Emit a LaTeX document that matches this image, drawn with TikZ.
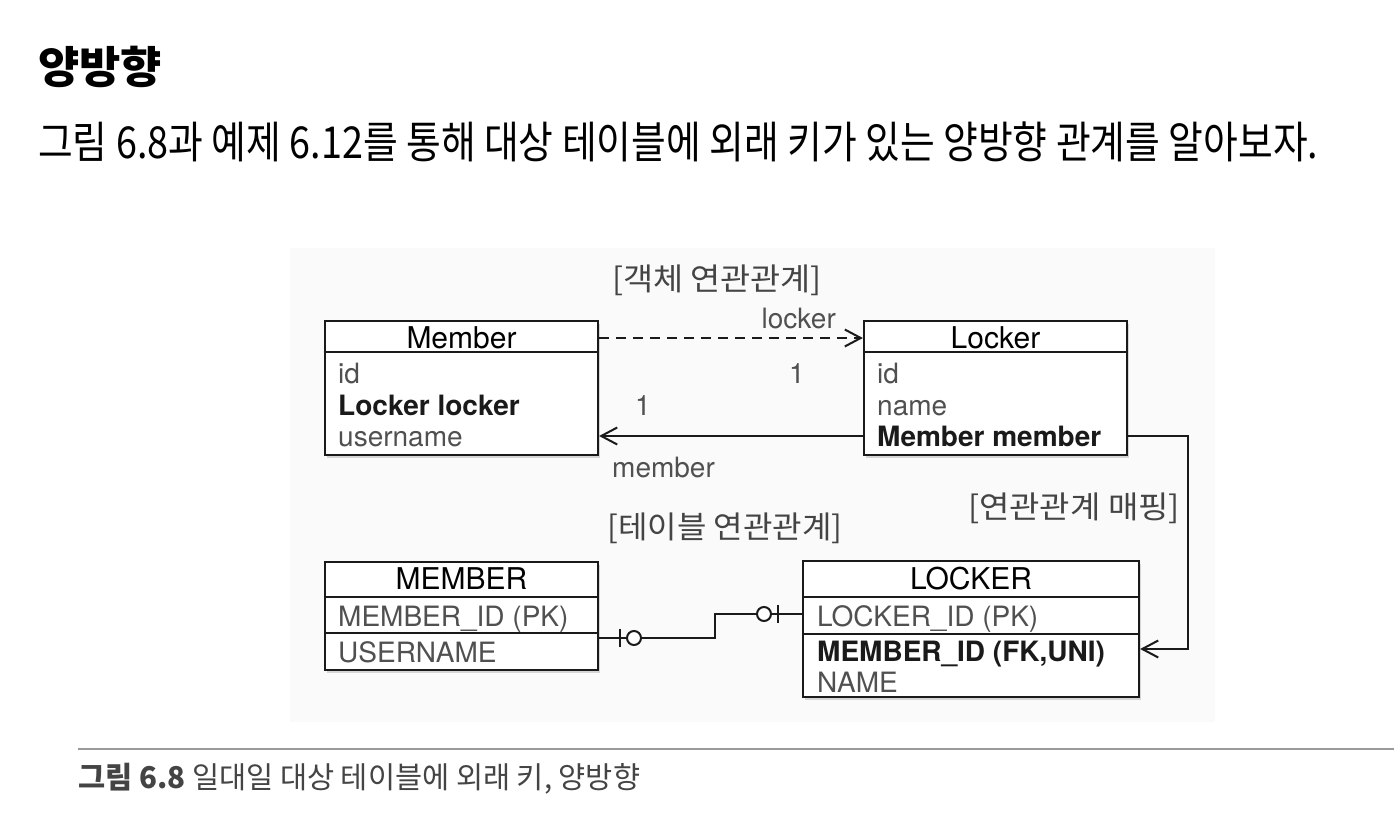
\documentclass[tikz,border=0pt]{standalone}
\usepackage{fontspec}
\setmainfont{TeX Gyre Heros}
\newfontfamily\kr{Noto Sans CJK KR}
\usetikzlibrary{arrows.meta,shadows}
\definecolor{lite}{HTML}{505050}
\definecolor{ink}{HTML}{1A1A1A}
\definecolor{bgpanel}{HTML}{FAFAFA}
\definecolor{rulegray}{HTML}{9A9A9A}
\definecolor{capgray}{HTML}{444444}
\tikzset{
  tbl/.style={draw=ink, line width=2.2pt, fill=white, inner sep=0pt,
    drop shadow={shadow xshift=2pt, shadow yshift=-3pt, opacity=0.3}},
  attr/.style={anchor=base west, inner sep=0pt, text=lite, font=\fontsize{28}{30}\selectfont},
  battr/.style={anchor=base west, inner sep=0pt, text=ink, font=\fontsize{28}{30}\selectfont\bfseries},
  head/.style={anchor=base, inner sep=0pt, text=black, font=\fontsize{30}{32}\selectfont},
  lbl/.style={inner sep=0pt, text=lite, font=\fontsize{28}{30}\selectfont},
  krlbl/.style={inner sep=0pt, text=capgray},
  link/.style={draw=ink, line width=2pt},
  sep/.style={draw=ink, line width=2pt},
  barb/.style={-{Straight Barb[length=16pt,width=17pt]}},
}
\begin{document}
\begin{tikzpicture}[x=1pt,y=-1pt]
\useasboundingbox (0,0) rectangle (1394,834);
\fill[white] (0,0) rectangle (1394,834);
\fill[bgpanel] (290,248) rectangle (1215,722);

% heading and body text
\node[anchor=west, inner sep=0pt] (title) at (38,67)
  {\resizebox{124pt}{\height}{\kr\bfseries\fontsize{44}{48}\selectfont 양방향}};
\node[anchor=west, inner sep=0pt] (body) at (38,142)
  {\resizebox{1280pt}{\height}{\kr\fontsize{44}{48}\selectfont 그림 6.8과 예제 6.12를 통해 대상 테이블에 외래 키가 있는 양방향 관계를 알아보자.}};

% object model
\node[tbl, minimum width=273pt, minimum height=134pt] (mem) at (461.5,388) {};
\node[tbl, minimum width=263pt, minimum height=134pt] (lck) at (995.5,388) {};
\draw[sep] (mem.west |- 0,352) -- (mem.east |- 0,352);
\draw[sep] (lck.west |- 0,352) -- (lck.east |- 0,352);
\node[head] (memh) at (461.5,348) {Member};
\node[attr] (memid) at (338,383) {id};
\node[battr] (memlk) at (338,415) {Locker locker};
\node[attr] (memun) at (338,446) {username};
\node[head] (lckh) at (995.5,348) {Locker};
\node[attr] (lckid) at (877,383) {id};
\node[attr] (lckname) at (877,415) {name};
\node[battr] (lckmm) at (877,446) {Member member};

\node[krlbl] (objrel) at (717,280)
  {\resizebox{210pt}{\height}{\kr\fontsize{31}{34}\selectfont [객체 연관관계]}};
\node[lbl, anchor=base east] (lkname) at (836,328) {locker};
\node[lbl, anchor=base] (one1) at (797,383) {1};
\node[lbl, anchor=base] (one2) at (643,415) {1};
\node[lbl, anchor=base west] (mbname) at (612,477) {member};

\draw[link, dashed, dash pattern=on 10pt off 7pt, barb] (mem.east |- 0,338) -- (lck.west |- 0,338);
\draw[link, barb] (lck.west |- 0,436) -- (mem.east |- 0,436);

% table model
\node[tbl, minimum width=273pt, minimum height=108pt] (MEM) at (461.5,616) {};
\node[tbl, minimum width=336pt, minimum height=136pt] (LCK) at (971,629) {};
\draw[sep] (MEM.west |- 0,597) -- (MEM.east |- 0,597);
\draw[sep] (MEM.west |- 0,633) -- (MEM.east |- 0,633);
\draw[sep] (LCK.west |- 0,597) -- (LCK.east |- 0,597);
\draw[sep] (LCK.west |- 0,634) -- (LCK.east |- 0,634);
\node[head] (MEMh) at (461.5,589) {MEMBER};
\node[attr] (MEMid) at (338,626) {MEMBER\_ID (PK)};
\node[attr] (MEMun) at (338,662) {USERNAME};
\node[head] (LCKh) at (971,589) {LOCKER};
\node[attr] (LCKid) at (817,626) {LOCKER\_ID (PK)};
\node[battr] (LCKfk) at (817,661) {MEMBER\_ID (FK,UNI)};
\node[attr] (LCKname) at (817,692) {NAME};

\node[krlbl] (tblrel) at (725,528)
  {\resizebox{235pt}{\height}{\kr\fontsize{31}{34}\selectfont [테이블 연관관계]}};
\node[krlbl] (maprel) at (1074,508)
  {\resizebox{212pt}{\height}{\kr\fontsize{31}{34}\selectfont [연관관계 매핑]}};

% ER connector with zero-or-one ends
\draw[link] (MEM.east |- 0,638) -- (715,638) -- (715,614) -- (LCK.west |- 0,614);
\draw[link] (620,629) -- (620,647);
\draw[link, fill=white] (634,638) circle (7pt);
\draw[link] (778,605) -- (778,623);
\draw[link, fill=white] (764,614) circle (7pt);

% mapping connector
\draw[link, barb] (lck.east |- 0,436) -- (1188,436) -- (1188,649) -- (LCK.east |- 0,649);

% caption
\draw[rulegray, line width=2pt] (78,749) -- (1394,749);
\node[anchor=west, inner sep=0pt, text=capgray] (caption) at (78,779)
  {\resizebox{562pt}{\height}{\kr\fontsize{30}{34}\selectfont {\bfseries 그림 6.8} 일대일 대상 테이블에 외래 키, 양방향}};
\end{tikzpicture}
\end{document}
